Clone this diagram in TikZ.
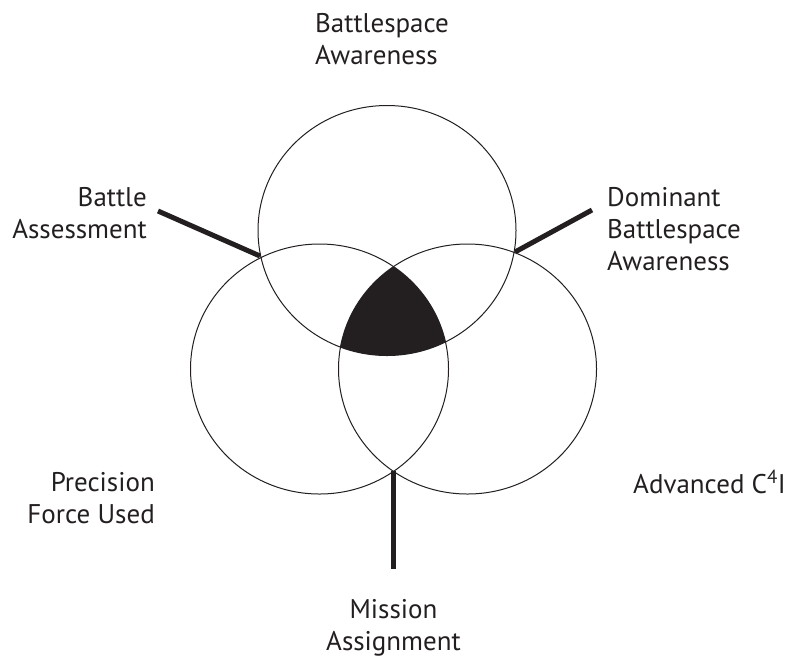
\documentclass[tikz,border=0pt]{standalone}
\usepackage{fontspec}
\setmainfont{PT Sans}
\definecolor{ink}{HTML}{231F20}
\begin{document}
\begin{tikzpicture}[x=1pt,y=-1pt,
  ring/.style={draw=ink,line width=1pt},
  spoke/.style={draw=ink,line width=5pt},
  lbl/.style={inner sep=0pt,text=ink,font=\fontsize{27}{32}\selectfont}]
\useasboundingbox (0,0) rectangle (794,657);
% triple overlap
\begin{scope}
  \clip (387,230.5) ellipse [x radius=129,y radius=125];
  \clip (319.5,369) ellipse [x radius=129,y radius=125];
  \fill[ink] (467.5,369) ellipse [x radius=129,y radius=125];
\end{scope}
\draw[ring] (387,230.5) ellipse [x radius=129,y radius=125];
\draw[ring] (319.5,369) ellipse [x radius=129,y radius=125];
\draw[ring] (467.5,369) ellipse [x radius=129,y radius=125];
% intersection points and spoke ends
\coordinate (tl) at (260,256);
\coordinate (tr) at (515,252);
\coordinate (bm) at (393.5,471);
\coordinate (tlend) at (158,211);
\coordinate (trend) at (592,210);
\coordinate (bmend) at (393.5,569);
\draw[spoke] (tlend) -- (tl);
\draw[spoke] (trend) -- (tr);
\draw[spoke,line cap=butt] (bm) -- (bmend);
% labels (base anchor = baseline of last line)
\node[lbl,anchor=base west,align=left] (bsa) at (315,64) {Battlespace\\Awareness};
\node[lbl,anchor=base east,align=right] (bas) at (147,238) {Battle\\Assessment};
\node[lbl,anchor=base west,align=left] (dba) at (607,270) {Dominant\\Battlespace\\Awareness};
\node[lbl,anchor=base east,align=right] (pfu) at (155,523) {Precision\\Force Used};
\node[lbl,anchor=base west] (ac) at (633,493) {Advanced C\textsuperscript{4}I};
\node[lbl,anchor=base,align=center] (ma) at (393.5,650) {Mission\\Assignment};
\end{tikzpicture}
\end{document}
